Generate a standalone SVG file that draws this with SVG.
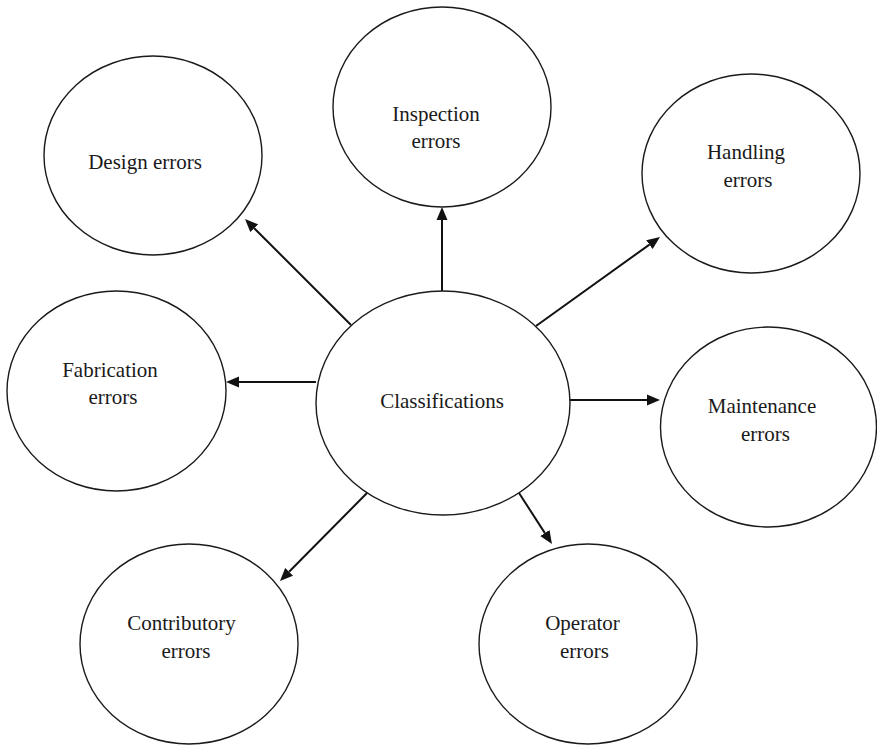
<svg xmlns="http://www.w3.org/2000/svg" width="877" height="745" viewBox="0 0 877 745">
  <style>
    .node ellipse { fill: #ffffff; stroke: #1a1a1a; stroke-width: 1.4; }
    .node text { font-family: 'Liberation Serif', 'Times New Roman', serif; font-size: 21px; fill: #1a1a1a; text-anchor: middle; }
    .edge { stroke: #111111; stroke-width: 2; fill: none; marker-end: url(#arrow); }
  </style>
  <defs>
    <marker id="arrow" markerUnits="userSpaceOnUse" markerWidth="14" markerHeight="12" viewBox="0 -6 14 12" refX="0" refY="0" orient="auto">
      <path d="M0,-5.5 L13,0 L0,5.5 z" fill="#111111"/>
    </marker>
  </defs>
  <rect width="877" height="745" fill="#ffffff"/>

  <!-- connectors: from the central node outward -->
  <g id="connectors">
    <line class="edge" x1="351" y1="325" x2="254.2" y2="228.2"/>
    <line class="edge" x1="442" y1="291" x2="442" y2="220"/>
    <line class="edge" x1="536" y1="326" x2="649.4" y2="244.6"/>
    <line class="edge" x1="316" y1="382" x2="239" y2="382"/>
    <line class="edge" x1="570" y1="400" x2="647" y2="400"/>
    <line class="edge" x1="367" y1="493" x2="289.1" y2="571.8"/>
    <line class="edge" x1="519" y1="493" x2="544.9" y2="533.1"/>
  </g>

  <g id="classifications" class="node">
    <ellipse cx="443" cy="403" rx="127" ry="112"/>
    <text x="442" y="408">Classifications</text>
  </g>

  <g id="design" class="node">
    <ellipse cx="153" cy="155.5" rx="109" ry="99.5"/>
    <text x="145" y="169">Design errors</text>
  </g>

  <g id="inspection" class="node">
    <ellipse cx="442" cy="107" rx="109" ry="100"/>
    <text x="436" y="121">Inspection</text>
    <text x="436" y="148">errors</text>
  </g>

  <g id="handling" class="node">
    <ellipse cx="751" cy="173.5" rx="109" ry="99.5"/>
    <text x="746" y="159">Handling</text>
    <text x="748" y="187">errors</text>
  </g>

  <g id="fabrication" class="node">
    <ellipse cx="116.5" cy="391" rx="109.5" ry="100"/>
    <text x="110" y="377">Fabrication</text>
    <text x="113" y="404">errors</text>
  </g>

  <g id="maintenance" class="node">
    <ellipse cx="768.5" cy="427" rx="108" ry="100"/>
    <text x="762" y="413">Maintenance</text>
    <text x="765.5" y="441">errors</text>
  </g>

  <g id="contributory" class="node">
    <ellipse cx="189" cy="644" rx="109" ry="100"/>
    <text x="181.5" y="630">Contributory</text>
    <text x="186" y="658">errors</text>
  </g>

  <g id="operator" class="node">
    <ellipse cx="588" cy="644" rx="109" ry="100"/>
    <text x="582.5" y="630">Operator</text>
    <text x="584.5" y="658">errors</text>
  </g>
</svg>
